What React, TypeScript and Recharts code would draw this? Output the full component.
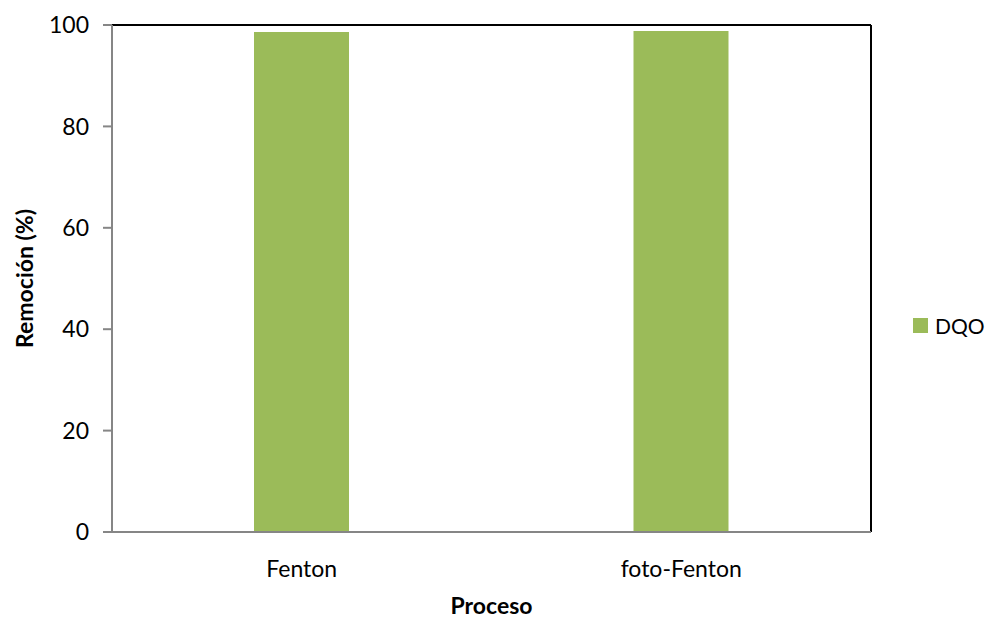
import React from 'react';
import { BarChart, Bar, XAxis, YAxis, Legend, ReferenceLine } from 'recharts';

const categories = ['Fenton', 'foto-Fenton'];
const dqoValues = [98.6, 98.8];
const yTicks = [0, 20, 40, 60, 80, 100];
const seriesName = 'DQO';
const xTitle = 'Proceso';
const yTitle = 'Remoción (%)';

const data = categories.map((c, i) => ({ name: c, DQO: dqoValues[i] }));

const FONT = 'Lato, "Open Sans", sans-serif';
const GREEN = '#9BBB59';

const LegendContent = () => (
  <div style={{ display: 'flex', alignItems: 'center', whiteSpace: 'nowrap', fontFamily: FONT, fontSize: 21, color: '#000', width: 100 }}>
    <span style={{ display: 'inline-block', flexShrink: 0, width: 15, height: 15, background: GREEN, marginRight: 7 }} />
    <span>{seriesName}</span>
  </div>
);

export default function App() {
  return (
    <div style={{ position: 'absolute', left: 0, top: 0, width: 989, height: 618, background: '#fff' }}>
      <BarChart
        width={989}
        height={618}
        data={data}
        margin={{ top: 25, right: 118, bottom: 0, left: 0 }}
        style={{ fontFamily: FONT }}
      >
        <XAxis
          dataKey="name"
          height={86}
          stroke="#868686"
          strokeWidth={2}
          tickLine={false}
          tickSize={0}
          tickMargin={29}
          tick={{ fill: '#000', fontSize: 23, fontFamily: FONT }}
          label={(props: any) => {
            const vb = props.viewBox;
            return (
              <text x={vb.x + vb.width / 2} y={614} textAnchor="middle" fontFamily={FONT} fontSize={23} fontWeight={700} fill="#000">
                {xTitle}
              </text>
            );
          }}
        />
        <XAxis xAxisId="frame" type="number" domain={[0, 1]} hide />
        <YAxis
          domain={[0, 100]}
          ticks={yTicks}
          width={112}
          stroke="#868686"
          strokeWidth={2}
          tickSize={9}
          tickMargin={14}
          tick={{ fill: '#000', fontSize: 23, fontFamily: FONT }}
          label={(props: any) => {
            const vb = props.viewBox;
            const cy = vb.y + vb.height / 2;
            return (
              <text x={33} y={cy} textAnchor="middle" transform={`rotate(-90, 33, ${cy})`} fontFamily={FONT} fontSize={23} fontWeight={700} fill="#000">
                {yTitle}
              </text>
            );
          }}
        />
        <ReferenceLine y={100} stroke="#000" strokeWidth={2} ifOverflow="visible" />
        <ReferenceLine xAxisId="frame" x={1} stroke="#000" strokeWidth={2} ifOverflow="visible" />
        <Legend
          content={<LegendContent />}
          wrapperStyle={{ position: 'absolute', left: 913, top: 313, width: 0, height: 0, overflow: 'visible' }}
        />
        <Bar dataKey="DQO" name={seriesName} fill={GREEN} barSize={95} isAnimationActive={false} />
      </BarChart>
    </div>
  );
}
